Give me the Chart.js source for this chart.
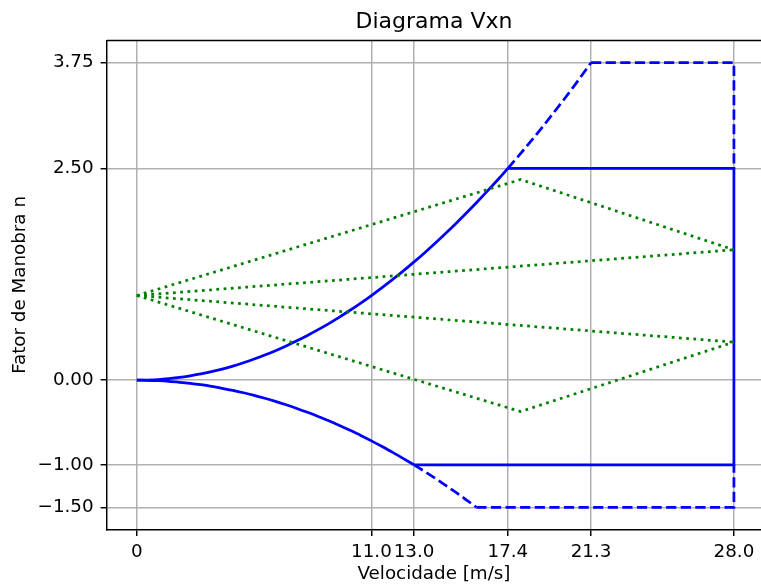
<!DOCTYPE html>
<html>
<head>
<meta charset="utf-8">
<script src="https://cdn.jsdelivr.net/npm/chart.js@4.4.1/dist/chart.umd.min.js"></script>
<style>
  html, body { margin: 0; padding: 0; background: #fff; }
  #wrap { width: 761px; height: 585px; }
</style>
</head>
<body>
<div id="wrap"><canvas id="chart" width="761" height="585"></canvas></div>
<script>
// Axis ticks
const xTicks = [0, 11.0, 13.0, 17.4, 21.3, 28.0];
const xTickLabels = ['0', '11.0', '13.0', '17.4', '21.3', '28.0'];
const yTicks = [-1.5, -1.0, 0.0, 2.5, 3.75];
const yTickLabels = ['\u22121.50', '\u22121.00', '0.00', '2.50', '3.75'];

// Positive stall curve (solid part) and its continuation (dashed)
const posSolidV = [0, 0.5, 1, 1.5, 2, 2.5, 3, 3.5, 4, 4.5, 5, 5.5, 6, 6.5, 7, 7.5, 8, 8.5, 9, 9.5,
                   10, 10.5, 11, 11.5, 12, 12.5, 13, 13.5, 14, 14.5, 15, 15.5, 16, 16.5, 17, 17.4];
const posSolidN = [0, 0.002, 0.008, 0.019, 0.033, 0.052, 0.074, 0.101, 0.132, 0.167, 0.207, 0.250,
                   0.298, 0.349, 0.405, 0.465, 0.529, 0.597, 0.669, 0.746, 0.826, 0.911, 1.000, 1.093,
                   1.190, 1.291, 1.397, 1.506, 1.620, 1.738, 1.860, 1.986, 2.116, 2.250, 2.388, 2.502];
const posDashV = [17.4, 18, 18.5, 19, 19.5, 20, 20.5, 21, 21.3];
const posDashN = [2.502, 2.678, 2.829, 2.983, 3.143, 3.306, 3.473, 3.645, 3.750];

// Negative stall curve
const negSolidV = [0, 0.5, 1, 1.5, 2, 2.5, 3, 3.5, 4, 4.5, 5, 5.5, 6, 6.5, 7, 7.5, 8, 8.5, 9, 9.5,
                   10, 10.5, 11, 11.5, 12, 12.5, 13];
const negSolidN = [0, -0.001, -0.006, -0.013, -0.024, -0.037, -0.053, -0.072, -0.095, -0.120, -0.148,
                   -0.179, -0.213, -0.250, -0.290, -0.333, -0.379, -0.428, -0.479, -0.534, -0.592,
                   -0.652, -0.716, -0.783, -0.852, -0.925, -1.000];
const negDashV = [13, 13.5, 14, 14.5, 15, 15.5, 15.92];
const negDashN = [-1.000, -1.078, -1.160, -1.244, -1.331, -1.422, -1.500];

// Envelope edges
const envSolidV = [17.4, 28, 28, 13];
const envSolidN = [2.50, 2.50, -1.00, -1.00];
const envTopV = [21.3, 28, 28];
const envTopN = [3.75, 3.75, 2.50];
const envBotV = [15.92, 28, 28];
const envBotN = [-1.50, -1.50, -1.00];

// Gust lines
const gustOuterV = [0, 18, 28];
const gustUpperN = [1.00, 2.37, 1.54];
const gustLowerN = [1.00, -0.37, 0.45];
const gustInnerV = [0, 28];
const gustInnerUpN = [1.00, 1.54];
const gustInnerLowN = [1.00, 0.45];

const FONT = 'DejaVu Sans';
const BLUE = '#0000ff';
const GREEN = '#008000';
const LW = 2.75;

function pts(xs, ys) {
    return xs.map((x, i) => ({ x: x, y: ys[i] }));
}

function line(xs, ys, color, dash, smooth) {
    return {
        data: pts(xs, ys),
        showLine: true,
        borderColor: color,
        backgroundColor: color,
        borderWidth: LW,
        borderDash: dash,
        pointRadius: 0,
        fill: false,
        tension: 0,
        cubicInterpolationMode: smooth ? 'monotone' : 'default',
    };
}

const DASHED = [10.2, 4.4];
const DOTTED = [2.75, 4.5];

const datasets = [
    line(gustOuterV, gustUpperN, GREEN, DOTTED, false),
    line(gustInnerV, gustInnerUpN, GREEN, DOTTED, false),
    line(gustInnerV, gustInnerLowN, GREEN, DOTTED, false),
    line(gustOuterV, gustLowerN, GREEN, DOTTED, false),
    line(posSolidV, posSolidN, BLUE, [], true),
    line(posDashV, posDashN, BLUE, DASHED, true),
    line(negSolidV, negSolidN, BLUE, [], true),
    line(negDashV, negDashN, BLUE, DASHED, true),
    line(envSolidV, envSolidN, BLUE, [], false),
    line(envTopV, envTopN, BLUE, DASHED, false),
    line(envBotV, envBotN, BLUE, DASHED, false),
];

// top spine (matplotlib frame); right spine falls outside the picture
const framePlugin = {
    id: 'frame',
    afterDatasetsDraw(chart) {
        const { ctx, chartArea } = chart;
        ctx.save();
        ctx.strokeStyle = '#000';
        ctx.lineWidth = 1.47;
        ctx.beginPath();
        ctx.moveTo(chartArea.left, chartArea.top);
        ctx.lineTo(chartArea.right, chartArea.top);
        ctx.stroke();
        ctx.restore();
    }
};

const ctx = document.getElementById('chart').getContext('2d');
new Chart(ctx, {
    type: 'scatter',
    data: { datasets: datasets },
    plugins: [framePlugin],
    options: {
        responsive: false,
        animation: false,
        layout: { padding: 0 },
        plugins: {
            legend: { display: false },
            tooltip: { enabled: false },
            title: {
                display: true,
                fullSize: false,
                text: 'Diagrama Vxn',
                color: '#000',
                font: { family: FONT, size: 22, weight: 'normal' },
                padding: { top: 9, bottom: 5 },
            },
        },
        scales: {
            x: {
                type: 'linear',
                min: -1.4,
                max: 29.27,
                afterBuildTicks: (scale) => { scale.ticks = xTicks.map(v => ({ value: v })); },
                afterFit: (scale) => { scale.height = 55.5; },
                ticks: {
                    autoSkip: false,
                    maxRotation: 0,
                    color: '#000',
                    padding: 5,
                    font: { family: FONT, size: 18.3 },
                    callback: (value, index) => xTickLabels[index],
                },
                grid: {
                    color: '#b0b0b0',
                    lineWidth: 1.47,
                    tickColor: '#000',
                    tickLength: 6.4,
                    tickWidth: 1.47,
                },
                border: { color: '#000', width: 1.47 },
                title: {
                    display: true,
                    text: 'Velocidade [m/s]',
                    color: '#000',
                    font: { family: FONT, size: 18.3 },
                    padding: { top: 0, bottom: 0 },
                },
            },
            y: {
                type: 'linear',
                min: -1.7625,
                max: 4.0125,
                afterBuildTicks: (scale) => { scale.ticks = yTicks.map(v => ({ value: v })); },
                afterFit: (scale) => { scale.width = 107; },
                ticks: {
                    autoSkip: false,
                    color: '#000',
                    padding: 7,
                    font: { family: FONT, size: 18.3 },
                    callback: (value, index) => yTickLabels[index],
                },
                grid: {
                    color: '#b0b0b0',
                    lineWidth: 1.47,
                    tickColor: '#000',
                    tickLength: 6.4,
                    tickWidth: 1.47,
                },
                border: { color: '#000', width: 1.47 },
                title: {
                    display: true,
                    text: 'Fator de Manobra n',
                    color: '#000',
                    font: { family: FONT, size: 18.3 },
                    padding: { top: 9, bottom: 0 },
                },
            },
        },
    },
});
</script>
</body>
</html>
